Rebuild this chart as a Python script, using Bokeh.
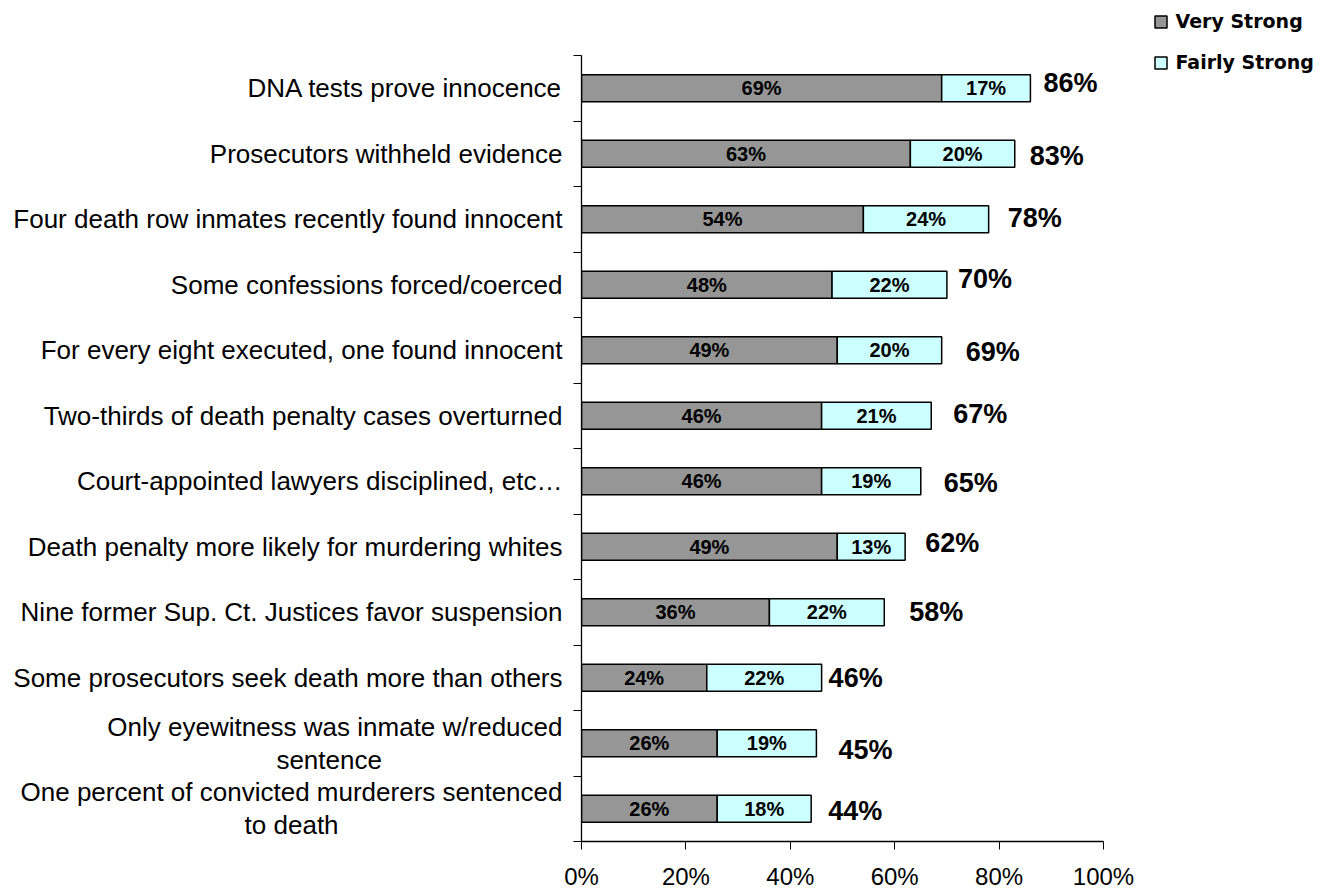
from bokeh.plotting import figure
from bokeh.models import (Range1d, FixedTicker, PrintfTickFormatter, Legend,
                          LegendItem, ColumnDataSource)
from bokeh.core.properties import value
from bokeh.embed import file_html
from bokeh.resources import INLINE

NB = "\u00a0"

# ---- data ----
categories = [
    "DNA tests prove innocence",
    "Prosecutors withheld evidence",
    "Four death row inmates recently found innocent",
    "Some confessions forced/coerced",
    "For every eight executed, one found innocent",
    "Two-thirds of death penalty cases overturned",
    "Court-appointed lawyers disciplined, etc\u2026",
    "Death penalty more likely for murdering whites",
    "Nine former Sup. Ct. Justices favor suspension",
    "Some prosecutors seek death more than others",
    "Only eyewitness was inmate w/reduced\nsentence",
    "One percent of convicted murderers sentenced\nto death",
]
very_strong = [69, 63, 54, 48, 49, 46, 46, 49, 36, 24, 26, 26]
fairly_strong = [17, 20, 24, 22, 20, 21, 19, 13, 22, 22, 19, 18]
totals = [86, 83, 78, 70, 69, 67, 65, 62, 58, 46, 45, 44]
x_ticks = [0, 20, 40, 60, 80, 100]

# label placement styling (pixels): offsets of total labels from bar end
total_dx = [13, 15, 19, 11, 24, 22, 23, 20, 25, 7, 22, 17]
total_dy = [-5, 2, -1, -6, 2, -2, 2, -4, 0, 0, 7, 2]
# trailing padding so that second lines look centred
pad2 = {10: 25, 11: 31}

n = len(categories)
ypos = [n - 1 - i for i in range(n)]
ends = [v + f for v, f in zip(very_strong, fairly_strong)]

display_labels = []
for i, c in enumerate(categories):
    if i in pad2:
        a, b = c.split("\n")
        c = a + "\n" + b + NB * pad2[i]
    display_labels.append(c)

src = ColumnDataSource(dict(
    y=ypos,
    very=very_strong,
    end=ends,
    vmid=[v / 2 for v in very_strong],
    fmid=[v + f / 2 for v, f in zip(very_strong, fairly_strong)],
    vlab=[f"{v}%" for v in very_strong],
    flab=[f"{f}%" for f in fairly_strong],
    tlab=[f"{t}%" for t in totals],
    dx=total_dx,
    dy=total_dy,
))

# ---- layout geometry (pixels) ----
W, H = 1325, 892
LEFT, RIGHT_AXIS_END, TOP_AXIS, BOTTOM = 581, 1103, 55, 841
x_px = RIGHT_AXIS_END - LEFT           # pixels for 0..100 %
y_px = (BOTTOM - TOP_AXIS) / n         # pixels per category
x_end = 100 * (W - LEFT) / x_px
y_end = (n - 0.5) + TOP_AXIS / y_px

p = figure(width=W, height=H, output_backend="svg", toolbar_location=None,
           x_range=Range1d(0, x_end), y_range=Range1d(-0.5, y_end),
           min_border_left=LEFT, min_border_right=0,
           min_border_top=0, min_border_bottom=H - BOTTOM)
p.xgrid.visible = False
p.ygrid.visible = False
p.outline_line_color = None
p.background_fill_color = "white"
p.border_fill_color = "white"

BAR_H = 0.41
r1 = p.hbar(y="y", left=0, right="very", height=BAR_H, source=src,
            fill_color="#969696", line_color="black", line_width=1.5)
r2 = p.hbar(y="y", left="very", right="end", height=BAR_H, source=src,
            fill_color="#CCFFFF", line_color="black", line_width=1.5)

FONT = value("Liberation Sans")
p.text(x="vmid", y="y", text="vlab", source=src, text_align="center",
       text_baseline="middle", text_font=FONT, text_font_style="bold",
       text_font_size="20px", text_color="black")
p.text(x="fmid", y="y", text="flab", source=src, text_align="center",
       text_baseline="middle", text_font=FONT, text_font_style="bold",
       text_font_size="20px", text_color="black")
p.text(x="end", y="y", text="tlab", source=src, x_offset="dx", y_offset="dy",
       text_align="left", text_baseline="middle", text_font=FONT,
       text_font_style="bold", text_font_size="27px", text_color="black")

# y axis
ya = p.yaxis[0]
ya.bounds = (-0.5, n - 0.5)
ya.ticker = FixedTicker(ticks=ypos, minor_ticks=[k - 0.5 for k in range(n + 1)])
ya.major_label_overrides = {y: lab for y, lab in zip(ypos, display_labels)}
ya.major_tick_out = 0
ya.major_tick_in = 0
ya.minor_tick_out = 8
ya.minor_tick_in = 0
ya.minor_tick_line_color = "black"
ya.axis_line_color = "black"
ya.axis_line_width = 1.3
ya.major_label_standoff = 11
ya.major_label_text_font = "Liberation Sans"
ya.major_label_text_font_size = "26px"
ya.major_label_text_color = "black"
ya.major_label_text_line_height = 1.1

# x axis
xa = p.xaxis[0]
xa.bounds = (0, 100)
xa.ticker = FixedTicker(ticks=x_ticks)
xa.formatter = PrintfTickFormatter(format="%d%%")
xa.major_tick_out = 8
xa.major_tick_in = 0
xa.minor_tick_out = 0
xa.minor_tick_in = 0
xa.major_tick_line_color = "black"
xa.axis_line_color = "black"
xa.axis_line_width = 1.3
xa.major_label_standoff = 13
xa.major_label_text_font = "Liberation Sans"
xa.major_label_text_font_size = "24px"
xa.major_label_text_color = "black"

legend = Legend(
    items=[LegendItem(label="Very Strong", renderers=[r1]),
           LegendItem(label="Fairly Strong", renderers=[r2])],
    location=(1152.5 - LEFT, BOTTOM - 73),
    glyph_width=15, glyph_height=15, label_standoff=8,
    label_height=22, spacing=19, padding=0, margin=0,
    border_line_alpha=0, background_fill_alpha=0,
    label_text_font="DejaVu Sans", label_text_font_style="bold",
    label_text_font_size="19px", label_text_color="black",
)
p.add_layout(legend)

open("out.html", "w").write(file_html(p, INLINE))
